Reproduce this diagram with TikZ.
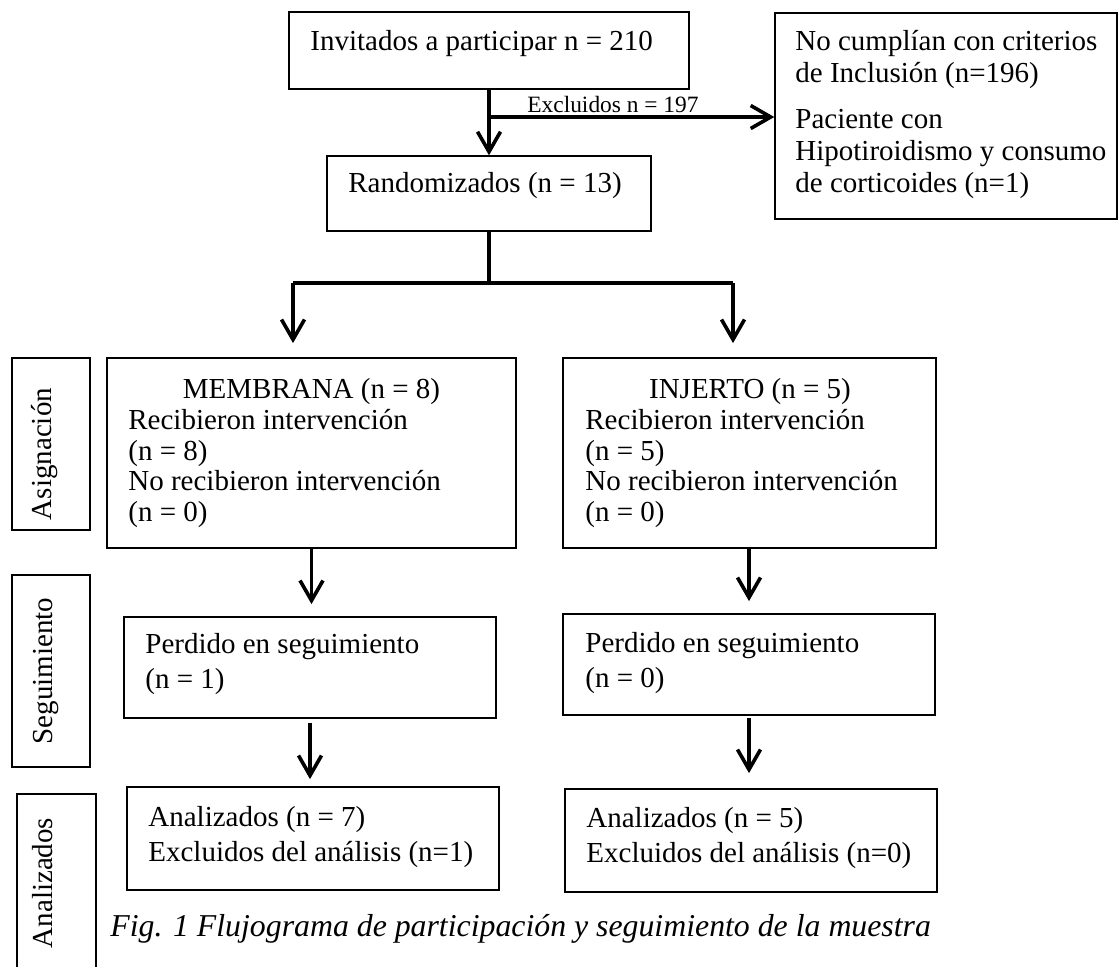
\documentclass[tikz,border=0pt]{standalone}
\usepackage{fontspec}
\setmainfont{Liberation Serif}
\usetikzlibrary{arrows.meta}
\begin{document}
\begin{tikzpicture}[x=0.5pt,y=-0.5pt,
  box/.style={draw=black, line width=0.9pt, inner sep=0pt},
  thinbox/.style={draw=black, line width=0.7pt, inner sep=0pt},
  txt/.style={inner sep=0pt, align=left, anchor=north west, font=\fontsize{14.5}{16}\selectfont},
  txtb/.style={inner sep=0pt, align=left, anchor=north west, font=\fontsize{14.5}{15.25}\selectfont},
  txtw/.style={inner sep=0pt, align=left, anchor=north west, font=\fontsize{14.5}{17.5}\selectfont},
  ttl/.style={inner sep=0pt, anchor=base, font=\fontsize{14.5}{16}\selectfont},
  side/.style={inner sep=0pt, anchor=base, rotate=90, font=\fontsize{14.5}{16}\selectfont},
  conn/.style={line width=1.8pt},
  arr/.style={conn, -{Straight Barb[length=10pt,width=11.5pt,line width=1.8pt]}}
]
\useasboundingbox (0,0) rectangle (1119,966);
\clip (0,0) rectangle (1119,966);

% top
\node[thinbox, minimum width=200pt, minimum height=38.5pt] (inv) at (489,50.5) {};
\node[txt] (invt) at (310,30) {Invitados a participar n = 210};
\node[thinbox, minimum width=171pt, minimum height=103pt] (exc) at (946,116) {};
\node[txt] (exct) at (795,30) {No cumplían con criterios\\de Inclusión (n=196)\\[7pt]Paciente con\\Hipotiroidismo y consumo\\de corticoides (n=1)};
\node[thinbox, minimum width=162pt, minimum height=37.5pt] (rand) at (489,193.5) {};
\node[txt] (randt) at (348,172) {Randomizados (n = 13)};

% arm boxes
\node[box, minimum width=204.5pt, minimum height=95pt] (memb) at (311.5,453) {};
\node[ttl] (membh) at (311.5,398) {MEMBRANA (n = 8)};
\node[txtb] (membt) at (128,409) {Recibieron intervención\\(n = 8)\\No recibieron intervención\\(n = 0)};
\node[box, minimum width=186.5pt, minimum height=95pt] (inj) at (749.5,453) {};
\node[ttl] (injh) at (750,398) {INJERTO (n = 5)};
\node[txtb] (injt) at (585,409) {Recibieron intervención\\(n = 5)\\No recibieron intervención\\(n = 0)};

\node[box, minimum width=186pt, minimum height=50.5pt] (perdL) at (310,667.5) {};
\node[txtw] (perdLt) at (145,633) {Perdido en seguimiento\\(n = 1)};
\node[box, minimum width=186pt, minimum height=50.5pt] (perdR) at (749,664.5) {};
\node[txtw] (perdRt) at (585,632) {Perdido en seguimiento\\(n = 0)};

\node[box, minimum width=186pt, minimum height=51.5pt] (anaL) at (313,838.5) {};
\node[txtw] (anaLt) at (148,806) {Analizados (n = 7)\\Excluidos del análisis (n=1)};
\node[box, minimum width=186pt, minimum height=51.5pt] (anaR) at (751,840.5) {};
\node[txtw] (anaRt) at (586,807) {Analizados (n = 5)\\Excluidos del análisis (n=0)};

% side labels
\node[box, minimum width=39pt, minimum height=86pt] (lasig) at (51,444) {};
\node[side] (lasigt) at (51,454) {Asignación};
\node[box, minimum width=39pt, minimum height=96pt] (lseg) at (51,671) {};
\node[side] (lsegt) at (52,671) {Seguimiento};
\node[box, minimum width=39.5pt, minimum height=95.5pt] (lana) at (56.5,889.5) {};
\node[side] (lanat) at (53,883) {Analizados};

% caption
\node[inner sep=0pt, anchor=base west, font=\fontsize{15.9}{18}\itshape] (cap) at (110,936) {Fig. 1 Flujograma de participación y seguimiento de la muestra};

% connectors
\coordinate (br1) at (489,117);
\draw[arr] (inv.south) -- (rand.north);
\draw[arr] (br1) -- (br1 -| exc.west);
\node[inner sep=0pt, anchor=base west, font=\fontsize{11.7}{14}\selectfont] (exlab) at (527,112) {Excluidos n = 197};

\coordinate (sp) at (489,283);
\coordinate (spL) at (293,283);
\coordinate (spR) at (733,283);
\draw[conn] (rand.south) -- (sp);
\draw[conn] (spL) -- (spR);
\draw[arr, shorten >=7pt] (spL) -- (spL |- memb.north);
\draw[arr, shorten >=7pt] (spR) -- (spR |- inj.north);

\draw[arr, shorten >=6pt] (memb.south) -- (memb.south |- perdL.north);
\draw[arr, shorten >=6pt] (inj.south -| perdR.south) -- (perdR.north);
\draw[arr, shorten <=2pt, shorten >=3.5pt] (perdL.south) -- (perdL.south |- anaL.north);
\draw[arr, shorten <=1pt, shorten >=7.5pt] (perdR.south) -- (perdR.south |- anaR.north);
\end{tikzpicture}
\end{document}
